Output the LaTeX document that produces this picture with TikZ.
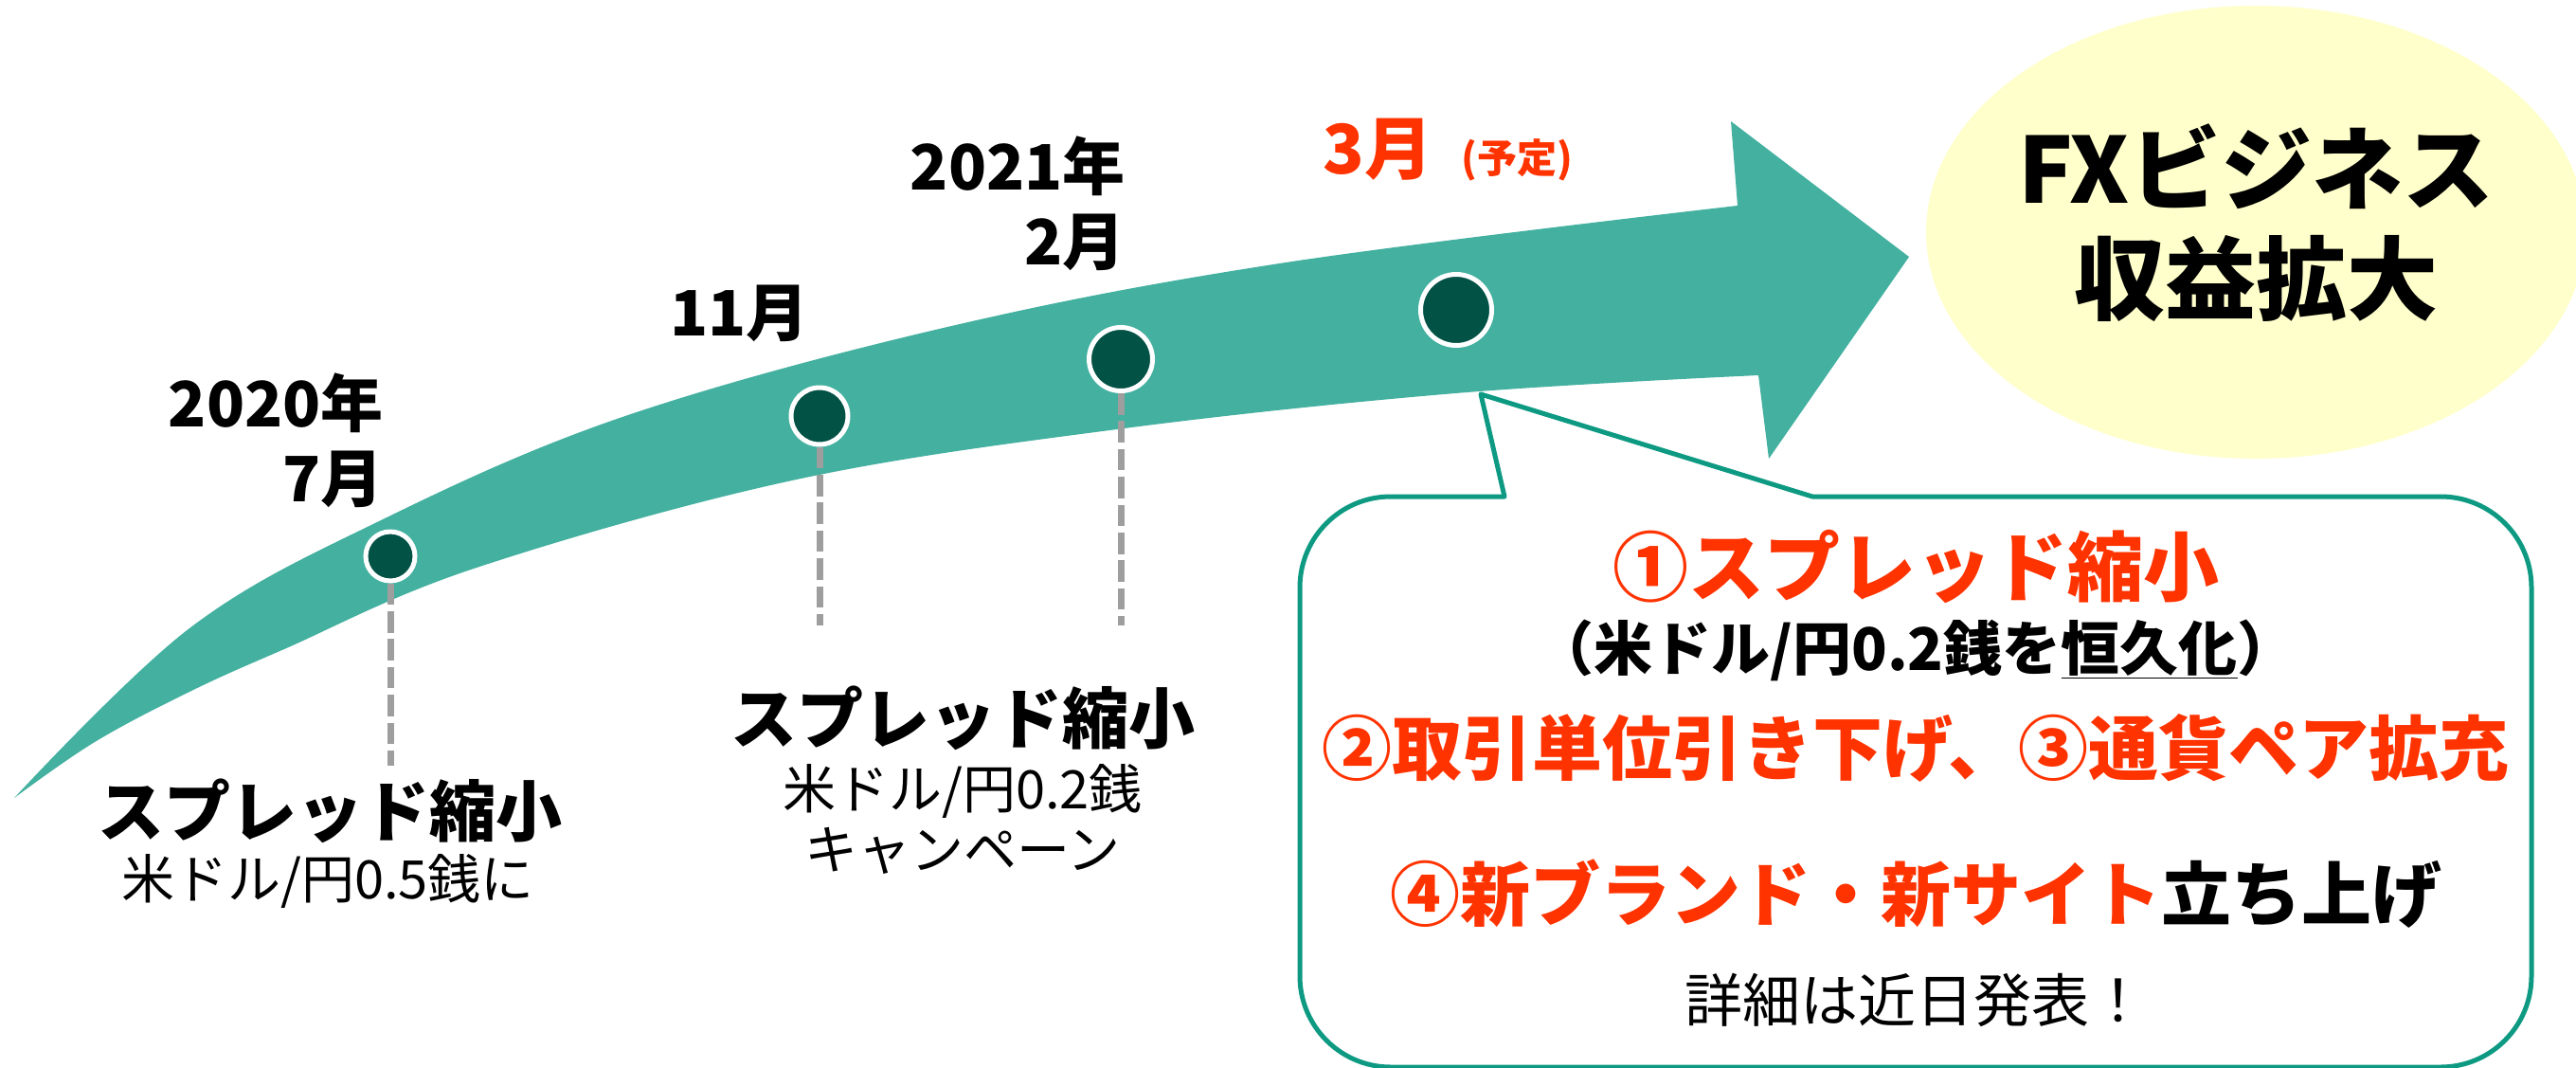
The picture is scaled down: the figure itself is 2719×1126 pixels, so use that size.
\documentclass[tikz,border=0pt]{standalone}
\usepackage{fontspec}
\setmainfont{Noto Sans CJK JP}
\usetikzlibrary{shapes.geometric}
\definecolor{arrowteal}{HTML}{43B0A0}
\definecolor{dotgreen}{HTML}{025246}
\definecolor{goalyellow}{HTML}{FFFFCC}
\definecolor{calloutteal}{HTML}{0E9A82}
\definecolor{accentred}{HTML}{FF3300}
\definecolor{dashgray}{HTML}{9E9E9E}
\begin{document}
\begin{tikzpicture}[x=0.5pt, y=-0.5pt,
  milestone/.style={circle, fill=dotgreen, draw=white, line width=2.5pt, inner sep=0pt},
  dashline/.style={draw=dashgray, line width=3.5pt, dash pattern=on 11.3pt off 3.4pt},
  datelabel/.style={font=\fontsize{33}{39.5}\selectfont\bfseries, inner sep=0pt, align=right, anchor=east},
  steptitle/.style={font=\fontsize{35}{40}\selectfont\bfseries, inner sep=0pt},
  stepnote/.style={font=\fontsize{28}{32}\selectfont, inner sep=0pt},
  calloutline/.style={draw=calloutteal, line width=2.5pt, fill=white, line join=round},
  boxhead/.style={font=\fontsize{40}{48}\selectfont\bfseries, text=accentred, inner sep=0pt},
  boxsub/.style={font=\fontsize{31}{36}\selectfont\bfseries, inner sep=0pt},
  boxitem/.style={font=\fontsize{37}{44}\selectfont\bfseries, inner sep=0pt},
  boxnote/.style={font=\fontsize{30.5}{36}\selectfont, inner sep=0pt}
]
\useasboundingbox (0,0) rectangle (2719,1126);

% curved arrow
\fill[arrowteal]
  plot[smooth, tension=0.6] coordinates {(15,842) (200,663) (400,550) (657,440) (1000,345) (1357,277) (1834,217)}
  -- (1827,128) -- (2015,271) -- (1867,484) -- (1856,396)
  -- plot[smooth, tension=0.6] coordinates {(1856,396) (1536,415) (1179,453) (836,507) (500,600) (300,685) (200,730) (100,783) (15,842)}
  -- cycle;

% milestones
\node[milestone, minimum size=26pt] (c1) at (412,587) {};
\node[milestone, minimum size=30pt] (c2) at (865,439) {};
\node[milestone, minimum size=33.5pt] (c3) at (1183,379) {};
\node[milestone, minimum size=37.5pt] (c4) at (1537,327) {};

\coordinate (e1) at (412,808);
\coordinate (e2) at (865,660);
\coordinate (e3) at (1183,660);
\draw[dashline] (c1.south) -- (e1);
\draw[dashline] (c2.south) -- (e2);
\draw[dashline] (c3.south) -- (e3);

% dates
\node[datelabel] (d1) at (405,465) {2020年\\7月};
\node[datelabel] (d2) at (854,331) {11月};
\node[datelabel] (d3) at (1188,215) {2021年\\2月};
\node[font=\fontsize{36}{40}\selectfont\bfseries, text=accentred, anchor=west, inner sep=0pt] (d4) at (1396,158) {3月};
\node[font=\fontsize{21}{24}\selectfont\bfseries, text=accentred, anchor=west, inner sep=0pt] (d4b) at (1542,169) {(予定)};

% step descriptions
\node[steptitle] (t1) at (348,856) {スプレッド縮小};
\node[stepnote] (n1) at (346,930) {米ドル/円0.5銭に};
\node[steptitle] (t2) at (1016,758) {スプレッド縮小};
\node[stepnote] (n2) at (1016,835) {米ドル/円0.2銭};
\node[stepnote] (n3) at (1016,898) {キャンペーン};

% goal
\node[ellipse, fill=goalyellow, minimum width=348pt, minimum height=239pt, inner sep=0pt] (goal) at (2381,245) {};
\node[font=\fontsize{48}{58}\selectfont\bfseries, align=center, inner sep=0pt] (goaltxt) at (2381,235) {FXビジネス\\収益拡大};

% callout
\draw[calloutline] (1588,524) -- (1563,416) -- (1913,524) -- (2576,524)
  arc[start angle=-90, end angle=0, radius=96] -- (2672,1030)
  arc[start angle=0, end angle=90, radius=96] -- (1468,1126)
  arc[start angle=90, end angle=180, radius=96] -- (1372,620)
  arc[start angle=180, end angle=270, radius=96] -- cycle;

\node[boxhead] (p1) at (2022,598) {①スプレッド縮小};
\node[boxsub, anchor=base] (p1b) at (2022,707) {（米ドル/円0.2銭を\underline{恒久化}）};
\node[boxitem, text=accentred] (p2) at (2022,789) {②取引単位引き下げ、③通貨ペア拡充};
\node[boxitem] (p3) at (2022,943) {\textcolor{accentred}{④新ブランド・新サイト}立ち上げ};
\node[boxnote] (p4) at (2022,1055) {詳細は近日発表！};
\end{tikzpicture}
\end{document}
